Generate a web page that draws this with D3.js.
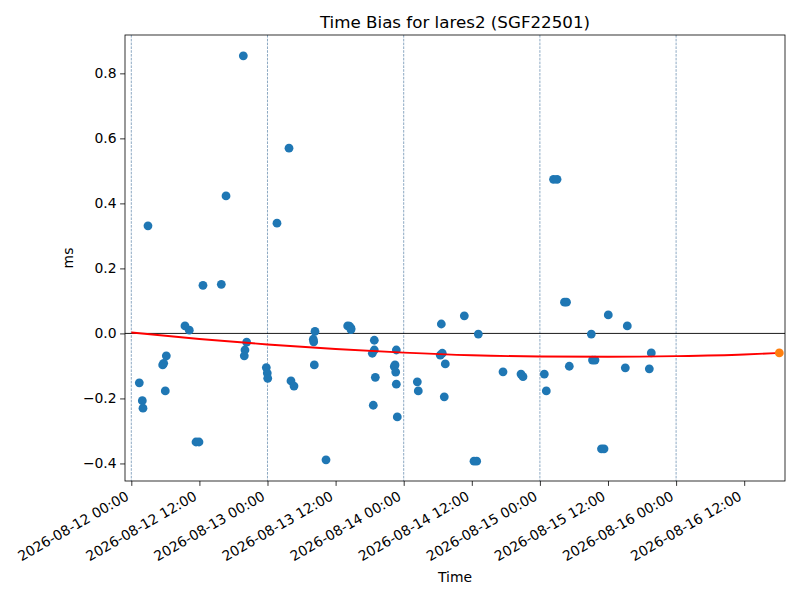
<html>
<head>
<meta charset="utf-8">
<script src="https://d3js.org/d3.v7.min.js"></script>
<style>
  body { margin: 0; background: #fff; font-family: "DejaVu Sans", sans-serif; }
  .axis text { font-size: 13.9px; font-family: "DejaVu Sans", sans-serif; fill: #000; }
  .axis path, .axis line { stroke: #000; stroke-width: 0.8px; }
</style>
</head>
<body>
<script>
// hours after 2026-08-12 00:00 UTC, and time bias in ms
var hours = [1.41, 1.94, 2.06, 2.94, 5.53, 5.71, 6.17, 5.99, 9.46, 10.22,
  11.40, 11.93, 12.63, 15.86, 16.69, 19.74, 19.91, 20.03, 20.33, 23.79,
  23.96, 24.04, 25.67, 27.79, 28.14, 28.67, 32.07, 32.14, 32.25, 32.37,
  34.31, 38.13, 38.45, 38.71, 38.71, 42.47, 42.82, 42.82, 43.00, 42.64,
  46.34, 46.47, 46.59, 46.70, 46.70, 46.87, 50.40, 50.57, 54.45, 54.80,
  54.63, 55.33, 55.15, 58.68, 60.39, 60.86, 61.15, 65.50, 68.67, 69.02,
  72.78, 73.13, 74.40, 75.02, 76.33, 76.69, 77.18, 81.06, 81.27, 81.71,
  82.85, 83.30, 84.05, 87.05, 87.40, 91.28, 91.63];
var bias = [-0.152, -0.207, -0.230, 0.331, -0.097, -0.092, -0.069, -0.177, 0.023, 0.010,
  -0.334, -0.334, 0.148, 0.151, 0.423, 0.854, -0.069, -0.051, -0.027, -0.105,
  -0.122, -0.138, 0.339, 0.570, -0.146, -0.162, -0.018, -0.026, -0.097, 0.006,
  -0.389, 0.023, 0.022, 0.016, 0.012, -0.061, -0.051, -0.021, -0.135, -0.221,
  -0.102, -0.097, -0.119, -0.051, -0.156, -0.257, -0.149, -0.177, -0.067, -0.061,
  0.029, -0.094, -0.195, 0.054, -0.393, -0.393, -0.002, -0.118, -0.125, -0.133,
  -0.125, -0.177, 0.474, 0.474, 0.096, 0.096, -0.101, -0.002, -0.082, -0.082,
  -0.355, -0.355, 0.057, -0.106, 0.023, -0.109, -0.060];

// fitted curve
var fitHours = [0, 12, 24, 36, 48, 60, 72, 84, 96, 108, 114.19];
var fitBias = [0.003, -0.017, -0.034, -0.048, -0.059, -0.067, -0.071, -0.072, -0.070, -0.065, -0.060];

// predicted point
var predHours = [114.19];
var predBias = [-0.060];

var dayLines = [0, 24, 48, 72, 96];
var tickHours = [0, 12, 24, 36, 48, 60, 72, 84, 96, 108];
var yTicks = [-0.4, -0.2, 0.0, 0.2, 0.4, 0.6, 0.8];

var t0 = Date.UTC(2026, 7, 12, 0, 0);
function toDate(h) { return new Date(t0 + h * 3600 * 1000); }

var W = 800, H = 600;
var margin = {left: 125, right: 15, top: 35, bottom: 119};
var width = W - margin.left - margin.right;
var height = H - margin.top - margin.bottom;

var x = d3.scaleUtc().domain([toDate(-1.11), toDate(115.19)]).range([0, width]);
var y = d3.scaleLinear().domain([-0.454, 0.918]).range([height, 0]);

var svg = d3.select("body").append("svg")
  .attr("width", W).attr("height", H);
var g = svg.append("g")
  .attr("transform", "translate(" + margin.left + "," + margin.top + ")");

// day separators
g.selectAll(".day").data(dayLines).enter().append("line")
  .attr("x1", function(d) { return x(toDate(d)); })
  .attr("x2", function(d) { return x(toDate(d)); })
  .attr("y1", 0).attr("y2", height)
  .style("stroke", "#3f6f9a").style("stroke-width", 0.6)
  .style("stroke-dasharray", "2.6,1.2");

// zero line
g.append("line")
  .attr("x1", 0).attr("x2", width)
  .attr("y1", y(0)).attr("y2", y(0))
  .style("stroke", "#000").style("stroke-width", 0.9);

// points
g.selectAll(".pt").data(hours).enter().append("circle")
  .attr("cx", function(d) { return x(toDate(d)); })
  .attr("cy", function(d, i) { return y(bias[i]); })
  .attr("r", 4.4)
  .style("fill", "#1f77b4");

// fit line
var fit = fitHours.map(function(h, i) { return [h, fitBias[i]]; });
g.append("path")
  .datum(fit)
  .attr("d", d3.line()
    .x(function(d) { return x(toDate(d[0])); })
    .y(function(d) { return y(d[1]); })
    .curve(d3.curveMonotoneX))
  .style("fill", "none").style("stroke", "red").style("stroke-width", 1.9);

g.selectAll(".pred").data(predHours).enter().append("circle")
  .attr("cx", function(d) { return x(toDate(d)); })
  .attr("cy", function(d, i) { return y(predBias[i]); })
  .attr("r", 4.4)
  .style("fill", "#ff7f0e");

// axes
var fmt = d3.utcFormat("%Y-%m-%d %H:%M");
var xAxis = g.append("g").attr("class", "axis")
  .attr("transform", "translate(0," + height + ")")
  .call(d3.axisBottom(x).tickValues(tickHours.map(toDate)).tickFormat(fmt)
    .tickSizeInner(4.9).tickSizeOuter(0).tickPadding(3.5));
xAxis.select(".domain").remove();
xAxis.selectAll("text")
  .style("text-anchor", "end")
  .attr("x", 0).attr("y", 0).attr("dy", 0)
  .attr("transform", "translate(-2,18) rotate(-30)");

var yAxis = g.append("g").attr("class", "axis")
  .call(d3.axisLeft(y).tickValues(yTicks)
    .tickFormat(function(d) { return d3.format(".1f")(d).replace("-", "\u2212"); })
    .tickSizeInner(4.9).tickSizeOuter(0).tickPadding(3.5));
yAxis.select(".domain").remove();

// frame
g.append("rect")
  .attr("width", width).attr("height", height)
  .style("fill", "none").style("stroke", "#000").style("stroke-width", 0.8);

svg.append("text")
  .attr("x", margin.left + width / 2).attr("y", 28)
  .attr("text-anchor", "middle")
  .style("font-size", "16.7px")
  .text("Time Bias for lares2 (SGF22501)");

svg.append("text")
  .attr("x", margin.left + width / 2).attr("y", 582)
  .attr("text-anchor", "middle")
  .style("font-size", "13.9px")
  .text("Time");

svg.append("text")
  .attr("transform", "translate(73," + (margin.top + height / 2) + ") rotate(-90)")
  .attr("text-anchor", "middle")
  .style("font-size", "13.9px")
  .text("ms");
</script>
</body>
</html>
